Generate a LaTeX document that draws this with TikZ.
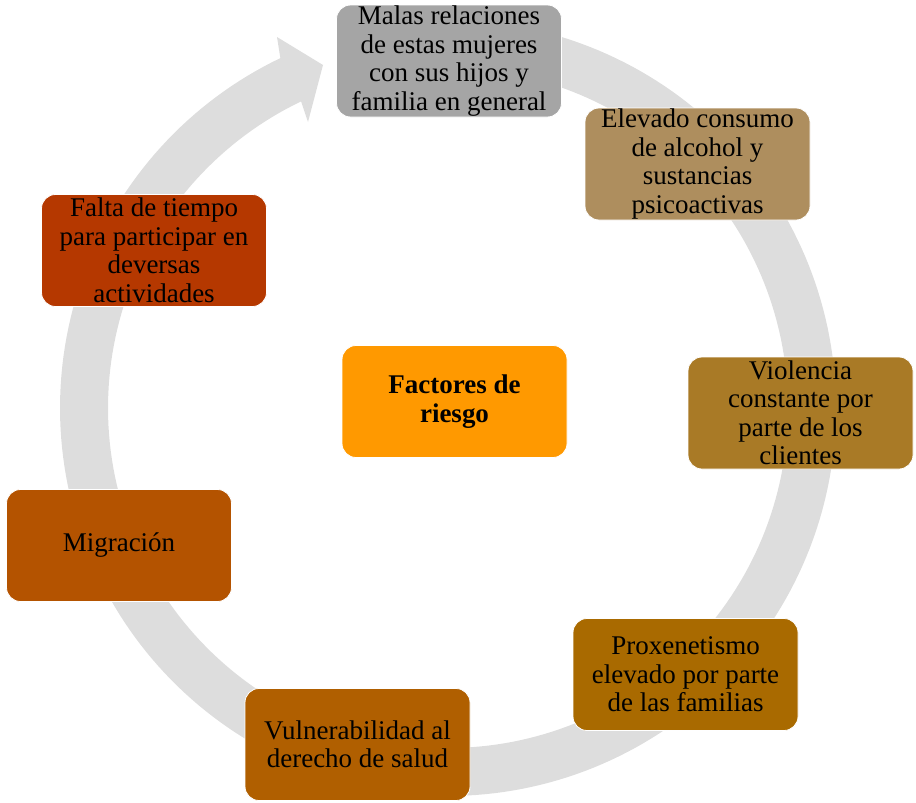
\documentclass[tikz,border=0pt]{standalone}
\usepackage{fontspec}
\setmainfont{Liberation Serif}
\definecolor{ringgray}{HTML}{DDDDDD}
\definecolor{cMalas}{HTML}{A5A5A5}
\definecolor{cElev}{HTML}{AE8E5E}
\definecolor{cViol}{HTML}{A97A26}
\definecolor{cProx}{HTML}{A96A00}
\definecolor{cVuln}{HTML}{B05F00}
\definecolor{cMigr}{HTML}{B45300}
\definecolor{cFalta}{HTML}{B53800}
\definecolor{cFact}{HTML}{FF9900}
\begin{document}
\begin{tikzpicture}[x=1pt,y=-1pt,
  box/.style={rounded corners=14pt, minimum width=225pt, minimum height=112pt,
    inner sep=0pt, align=center, draw=white, line width=0.8pt,
    font=\fontsize{27}{28.5}\selectfont, text=black}]
\useasboundingbox (0,0) rectangle (916,803);
% circular arrow
\fill[ringgray]
  plot[domain=-85:244.4, samples=240] ({448+388*cos(\x)},{408+388*sin(\x)})
  -- (277,37) -- (323,65) -- (308,122)
  -- plot[domain=244.4:-85, samples=240] ({448+340*cos(\x)},{408+340*sin(\x)})
  -- cycle;
% boxes
\node[box, fill=cMalas] (malas) at (449,61) {Malas relaciones\\de estas mujeres\\con sus hijos y\\familia en general};
\node[box, fill=cElev] (elev) at (697.5,164) {Elevado consumo\\de alcohol y\\sustancias\\psicoactivas};
\node[box, fill=cViol] (viol) at (800.5,413) {Violencia\\constante por\\parte de los\\clientes};
\node[box, fill=cProx] (prox) at (685.5,674.5) {Proxenetismo\\elevado por parte\\de las familias};
\node[box, fill=cVuln] (vuln) at (357.5,744.5) {Vulnerabilidad al\\derecho de salud};
\node[box, fill=cMigr] (migr) at (119,545.5) {Migración};
\node[box, fill=cFalta] (falta) at (154,250.5) {Falta de tiempo\\para participar en\\deversas\\actividades};
\node[box, fill=cFact, font=\fontsize{27}{28.5}\selectfont\bfseries] (fact) at (454.5,401.5) {Factores de\\riesgo};
\end{tikzpicture}
\end{document}
